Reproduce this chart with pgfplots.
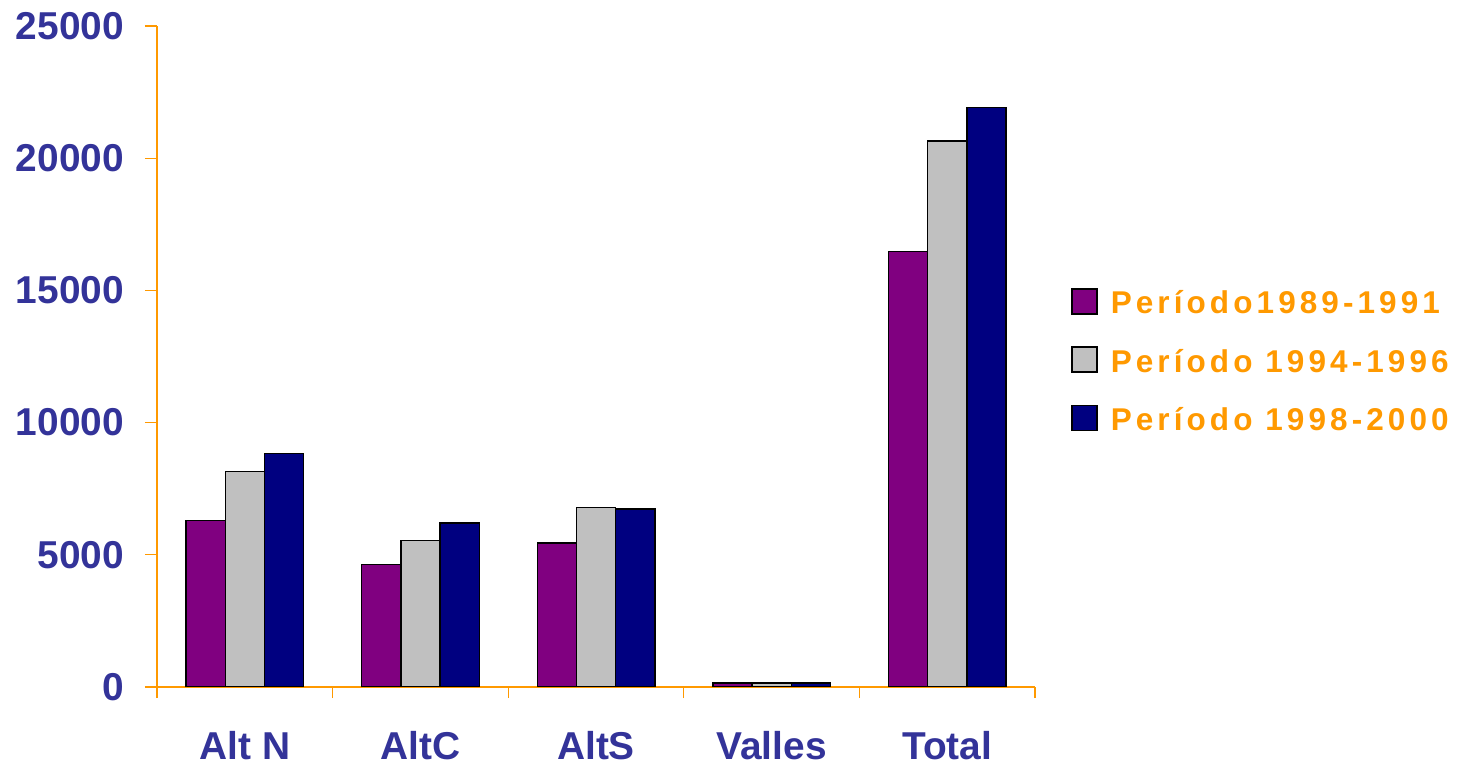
\documentclass[border=0pt]{standalone}
\usepackage{pgfplots}
\pgfplotsset{compat=1.18}
\usepackage{fontspec}
\setmainfont{Liberation Sans}
\newfontfamily\legendfont{Liberation Sans}[LetterSpace=13]
\definecolor{axisorange}{HTML}{FF9900}
\definecolor{labelblue}{HTML}{333399}
\definecolor{barpurple}{HTML}{800080}
\definecolor{bargray}{HTML}{C0C0C0}
\definecolor{barnavy}{HTML}{000080}

\begin{document}
\begin{tikzpicture}
\useasboundingbox (0,0) rectangle (733bp,382bp);
\begin{axis}[
  at={(78.5bp,38.5bp)}, anchor=south west,
  scale only axis, width=439bp, height=330.5bp,
  xmin=-0.5, xmax=4.5, ymin=0, ymax=25000,
  axis x line=bottom, axis y line=left,
  axis line style={draw=axisorange, line width=0.6bp, -},
  ybar=0pt, bar width=19.6bp,
  xtick={0,...,4},
  xticklabels={Alt N, AltC, AltS, Valles, Total},
  major x tick style={draw=none},
  minor xtick={-0.5,0.5,1.5,2.5,3.5,4.5},
  ytick={0,5000,...,25000},
  tick align=outside,
  major tick length=6bp, minor tick length=5.5bp,
  tick style={draw=axisorange, line width=0.6bp},
  scaled y ticks=false,
  yticklabel style={/pgf/number format/1000 sep={}, xshift=-7bp},
  /pgf/number format/assume math mode=true,
  ticklabel style={font=\fontsize{19.5}{22}\selectfont\bfseries, text=labelblue},
  xticklabel style={anchor=base, inner sep=0pt, yshift=-30bp},
  legend style={draw=none, fill=none, inner sep=0pt,
    at={(axis description cs:1.041,0.604)}, anchor=north west,
    font=\legendfont\bfseries\fontsize{15.8}{19}\selectfont,
    text=axisorange, row sep=13.3bp,
    nodes={text height=12bp, text depth=3bp, inner sep=0pt},
    /tikz/every odd column/.append style={column sep=6.5bp}},
  legend cell align=left,
  legend image code/.code={\draw[#1, draw=black, line width=0.7bp] (0bp,-4.5bp) rectangle (12.5bp,8bp);},
  every axis plot/.append style={draw=black, line width=0.7bp},
]
% 1989-1991
\addplot[fill=barpurple] coordinates {(0,6300) (1,4630) (2,5440) (3,150) (4,16460)};
% 1994-1996
\addplot[fill=bargray] coordinates {(0,8140) (1,5530) (2,6790) (3,150) (4,20650)};
% 1998-2000
\addplot[fill=barnavy] coordinates {(0,8840) (1,6210) (2,6730) (3,150) (4,21920)};
\legend{Período1989-1991, Período 1994-1996, Período 1998-2000}
\end{axis}
\end{tikzpicture}
\end{document}
